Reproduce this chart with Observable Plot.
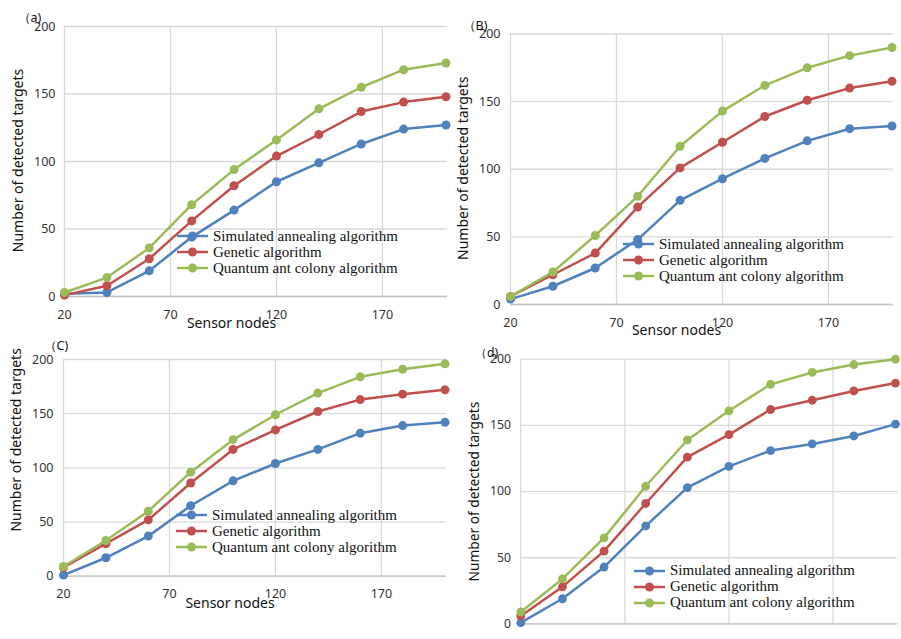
<!DOCTYPE html>
<html><head><meta charset="utf-8">
<script src="https://cdn.jsdelivr.net/npm/d3@7"></script>
<script src="https://cdn.jsdelivr.net/npm/@observablehq/plot@0.6"></script>
<style>
body{margin:0;background:#fff;}
#wrap{position:relative;width:901px;height:639px;overflow:hidden;background:#fff;}
.panel{position:absolute;}
.panel svg{overflow:visible;background:transparent;}
.legend{position:absolute;font-family:"Liberation Serif",serif;font-size:15px;color:#111;}
.legend .row{display:flex;align-items:center;height:16px;white-space:nowrap;}
.legend .row span{margin-left:5px;}
</style></head><body><div id="wrap"></div>
<script>
// ---- data ----
const nodes = [20, 40, 60, 80, 100, 120, 140, 160, 180, 200];
const seriesNames = ["Simulated annealing algorithm", "Genetic algorithm", "Quantum ant colony algorithm"];
const seriesColors = ["#4F81BD", "#C0504D", "#9BBB59"];
const xTicks = [20, 70, 120, 170];
const yTicks = [0, 50, 100, 150, 200];
const panelLabels = ["（a)", "（B)", "（C)", "（d)"];
const xTitle = "Sensor nodes";
const yTitle = "Number of detected targets";

const saA = [2, 3, 19, 44, 64, 85, 99, 113, 124, 127];
const gaA = [1, 8, 28, 56, 82, 104, 120, 137, 144, 148];
const qaA = [3, 14, 36, 68, 94, 116, 139, 155, 168, 173];

const saB = [4, 13.5, 27, 48, 77, 93, 108, 121, 130, 132];
const gaB = [6, 22, 38, 72, 101, 120, 139, 151, 160, 165];
const qaB = [6, 24, 51, 80, 117, 143, 162, 175, 184, 190];

const saC = [1, 17, 37, 65, 88, 104, 117, 132, 139, 142];
const gaC = [8, 30, 52, 86, 117, 135, 152, 163, 168, 172];
const qaC = [9, 33, 60, 96, 126, 149, 169, 184, 191, 196];

const saD = [1, 19, 43, 74, 103, 119, 131, 136, 142, 151];
const gaD = [6, 28, 55, 91, 126, 143, 162, 169, 176, 182];
const qaD = [9, 34, 65, 104, 139, 161, 181, 190, 196, 200];

// ---- layout ----
const panels = [
  {label: panelLabels[0], series: [saA, gaA, qaA], left: 0, top: 0, width: 450, height: 330,
   m: [26, 3, 34, 64], xMax: 200.7, yPad: 9, xPad: 13.5, showX: true,
   yt: [-46, -1], xt: [-24.5, 27], lt: [-47, -9], lg: [177, 228]},
  {label: panelLabels[1], series: [saB, gaB, qaB], left: 450, top: 0, width: 451, height: 330,
   m: [33.5, 8, 26, 60], xMax: 200.7, yPad: 10, xPad: 13.5, showX: true,
   yt: [-47, -1], xt: [-25.5, 26], lt: [-48, -8.5], lg: [623, 236]},
  {label: panelLabels[2], series: [saC, gaC, qaC], left: 0, top: 330, width: 450, height: 309,
   m: [29, 4, 63.3, 63], xMax: 200.7, yPad: 10, xPad: 13, showX: true,
   yt: [-47, -28], xt: [-25, 27], lt: [-20, -14], lg: [176, 507]},
  {label: panelLabels[3], series: [saD, gaD, qaD], left: 450, top: 330, width: 460, height: 330,
   m: [29.3, 4, 30.7, 71.7], xMax: 201, yPad: 10, xPad: 13.5, showX: false,
   yt: [-46.7, 0], xt: [-25, 27], lt: [-46.7, -6], lg: [634, 562.7]}
];

const wrap = document.getElementById("wrap");

for (const p of panels) {
  const marks = [
    Plot.gridY(yTicks, {stroke: "#d9d9d9", strokeOpacity: 1, strokeWidth: 1.3}),
    Plot.gridX(xTicks, {stroke: "#d9d9d9", strokeOpacity: 1, strokeWidth: 1.3}),
    Plot.ruleY([0], {stroke: "#c4c4c4", strokeWidth: 1.3}),
    Plot.axisY(yTicks, {tickSize: 0, tickPadding: p.yPad, label: null, fontSize: 12.5, fill: "#333"}),
  ];
  if (p.showX) {
    marks.push(Plot.axisX(xTicks, {tickSize: 0, tickPadding: p.xPad, label: null, fontSize: 12.5, fill: "#333"}));
  }
  p.series.forEach((vals, i) => {
    const rows = nodes.map((n, j) => ({x: n, y: vals[j]}));
    marks.push(Plot.line(rows, {x: "x", y: "y", stroke: seriesColors[i], strokeWidth: 2.5}));
    marks.push(Plot.dot(rows, {x: "x", y: "y", r: 4.5, fill: seriesColors[i]}));
  });
  marks.push(Plot.text([yTitle], {text: d => d, frameAnchor: "left", rotate: -90, dx: p.yt[0], dy: p.yt[1],
    lineAnchor: "middle", textAnchor: "middle", fontSize: 14, fill: "#111"}));
  if (p.showX) {
    marks.push(Plot.text([xTitle], {text: d => d, frameAnchor: "bottom", dx: p.xt[0], dy: p.xt[1],
      lineAnchor: "middle", textAnchor: "middle", fontSize: 14, fill: "#111"}));
  }
  marks.push(Plot.text([p.label], {text: d => d, frameAnchor: "top-left", dx: p.lt[0], dy: p.lt[1],
    lineAnchor: "middle", textAnchor: "start", fontSize: 12.5, fill: "#111"}));

  const chart = Plot.plot({
    width: p.width, height: p.height,
    marginTop: p.m[0], marginRight: p.m[1], marginBottom: p.m[2], marginLeft: p.m[3],
    x: {domain: [20, p.xMax], axis: null},
    y: {domain: [0, 200], axis: null},
    style: {fontFamily: "'Noto Sans', sans-serif", fontSize: "12.5px", color: "#111", overflow: "visible", background: "transparent"},
    marks
  });
  const div = document.createElement("div");
  div.className = "panel";
  div.style.left = p.left + "px";
  div.style.top = p.top + "px";
  div.appendChild(chart);
  wrap.appendChild(div);

  // legend
  const lg = document.createElement("div");
  lg.className = "legend";
  lg.style.left = p.lg[0] + "px";
  lg.style.top = p.lg[1] + "px";
  seriesNames.forEach((name, i) => {
    const row = document.createElement("div");
    row.className = "row";
    row.innerHTML = `<svg width="31" height="16"><line x1="0" x2="31" y1="8" y2="8" stroke="${seriesColors[i]}" stroke-width="2.5"/><circle cx="15.5" cy="8" r="4.5" fill="${seriesColors[i]}"/></svg>`;
    const sp = document.createElement("span");
    sp.textContent = name;
    row.appendChild(sp);
    lg.appendChild(row);
  });
  wrap.appendChild(lg);
}
</script>
</body></html>
